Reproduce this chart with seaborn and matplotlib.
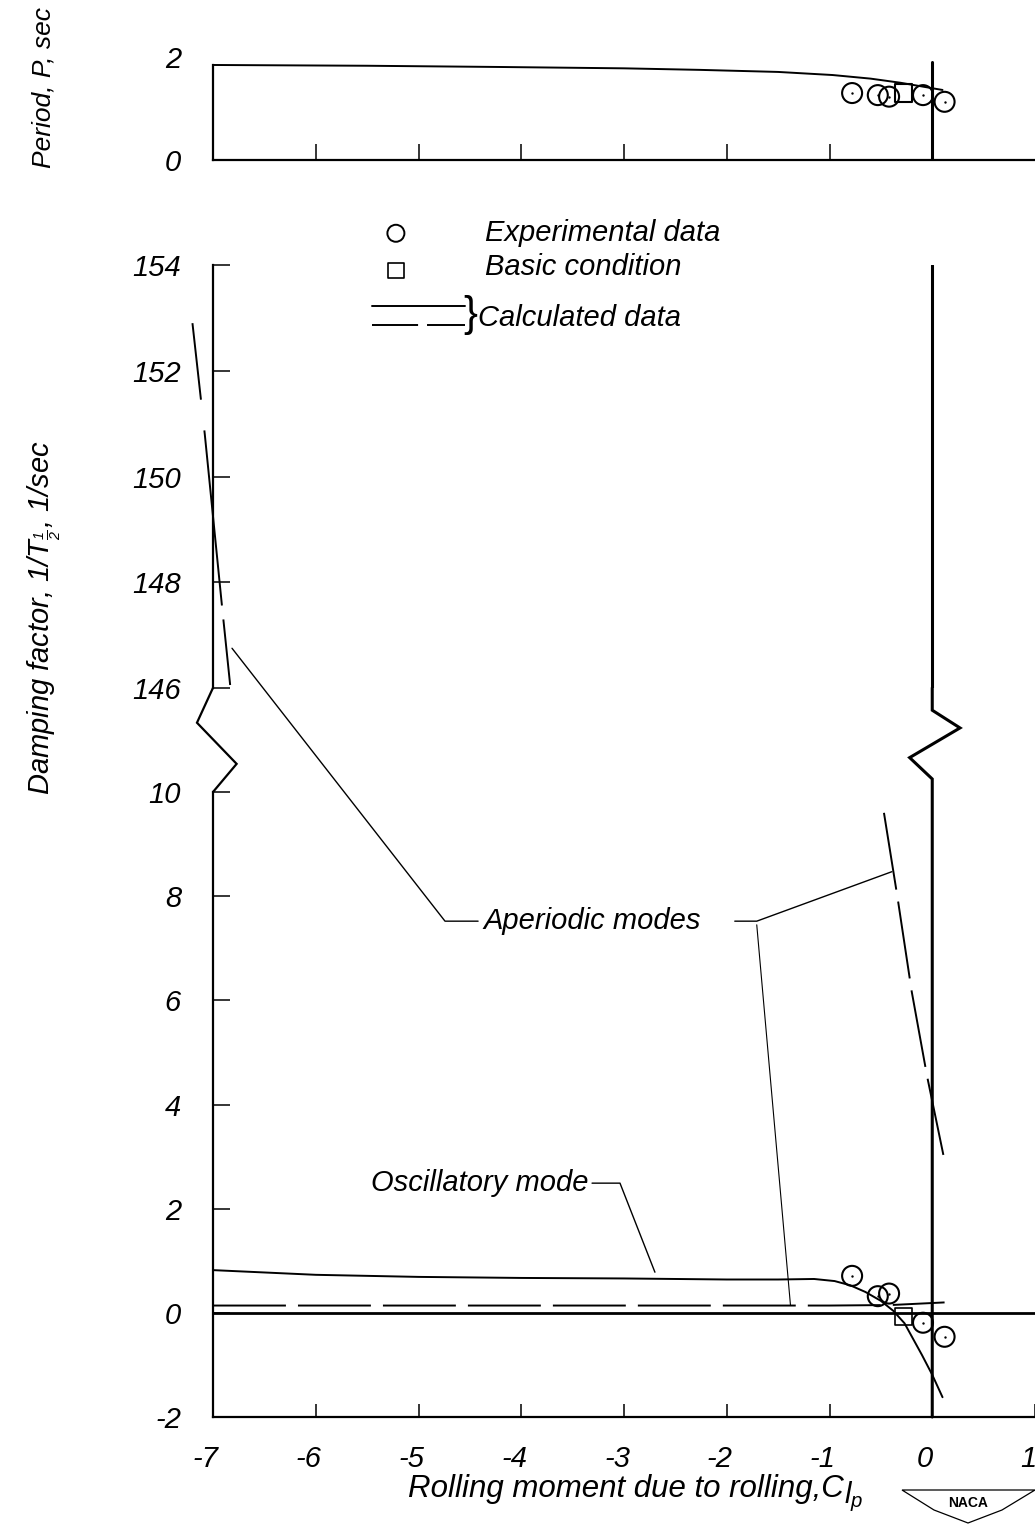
import numpy as np
import pandas as pd
import matplotlib
matplotlib.use("Agg")
import matplotlib.pyplot as plt
import matplotlib.transforms as mtransforms
from matplotlib.patches import Polygon
import seaborn as sns

# ---------------- data ----------------
period_curve_x = [-7.0, -5.5, -4.2, -3.0, -2.26, -1.5, -0.97, -0.6, -0.31, 0.04, 0.10]
period_curve_y = [1.845, 1.83, 1.806, 1.78, 1.75, 1.71, 1.65, 1.58, 1.50, 1.38, 1.36]

exp_x = [-0.78, -0.53, -0.42, -0.09, 0.12]
exp_period = [1.30, 1.26, 1.23, 1.26, 1.13]
exp_damping = [0.71, 0.32, 0.37, -0.19, -0.46]

basic_x = [-0.28]
basic_period = [1.30]
basic_damping = [-0.07]

osc_x = [-7.0, -6.0, -5.0, -4.0, -3.0, -2.0, -1.5, -1.15, -0.95, -0.8, -0.65, -0.5, -0.38, -0.27, -0.1, 0.0, 0.1]
osc_y = [0.82, 0.73, 0.69, 0.67, 0.66, 0.64, 0.64, 0.65, 0.61, 0.53, 0.40, 0.23, 0.04, -0.2, -0.81, -1.19, -1.62]

aper_low_x = [-7.0, -4.0, -1.0, -0.4, 0.12]
aper_low_y = [0.14, 0.14, 0.14, 0.15, 0.20]

aper_mid_x = [-0.47, -0.34, -0.20, -0.05, 0.12]
aper_mid_y = [9.6, 8.0, 6.17, 4.54, 2.92]

aper_high_x = [-7.20, -7.08, -6.91, -6.83]
aper_high_y = [152.9, 150.8, 147.5, 146.0]

x_ticks = [-7, -6, -5, -4, -3, -2, -1, 0, 1]
x_tick_labels = ["-7", "-6", "-5", "-4", "-3", "-2", "-1", "0", "1"]
period_ticks = [0, 2]
period_tick_labels = ["0", "2"]
damp_low_ticks = [-2, 0, 2, 4, 6, 8, 10]
damp_low_labels = ["-2", "0", "2", "4", "6", "8", "10"]
damp_high_ticks = [146, 148, 150, 152, 154]
damp_high_labels = ["146", "148", "150", "152", "154"]

# ---------------- style ----------------
sns.set_theme(style="white")
plt.rcParams['font.family'] = ['Liberation Sans', 'DejaVu Sans']
plt.rcParams['font.style'] = 'italic'
plt.rcParams['mathtext.fontset'] = 'custom'
plt.rcParams['mathtext.it'] = 'Liberation Sans:italic'
plt.rcParams['mathtext.rm'] = 'Liberation Sans:italic'
plt.rcParams['mathtext.default'] = 'it'
plt.rcParams['axes.linewidth'] = 1.5
plt.rcParams['axes.edgecolor'] = 'black'
plt.rcParams['text.color'] = 'black'
plt.rcParams['axes.labelcolor'] = 'black'
plt.rcParams['xtick.color'] = 'black'
plt.rcParams['ytick.color'] = 'black'
plt.rcParams['xtick.labelcolor'] = 'black'
plt.rcParams['ytick.labelcolor'] = 'black'

FS = 21
LW = 1.4
K = 'black'

W, H = 1035, 1533
fig = plt.figure(figsize=(W / 100, H / 100), dpi=100)
fig.patch.set_facecolor('white')

L = 213 / W
Wd = 822 / W
ax_top = fig.add_axes([L, 1 - 160 / H, Wd, 103 / H])
ax_up = fig.add_axes([L, 1 - 688 / H, Wd, 423 / H])
ax_lo = fig.add_axes([L, 1 - 1417 / H, Wd, 625 / H])

for ax in (ax_top, ax_up, ax_lo):
    ax.set_facecolor('none')
    ax.set_xlim(-7, 1)
    ax.spines['top'].set_visible(False)
    ax.spines['right'].set_visible(False)
    for s in ax.spines.values():
        s.set_linewidth(1.6)
        s.set_color(K)

ax_top.set_ylim(0, 2)
ax_up.set_ylim(146, 154)
ax_lo.set_ylim(-2, 10)

dash_std = (0, (37.5, 6.2))
dash_mid = (0, (40.0, 6.2))
dash_high = (0, (39.6, 15.9, 90.5, 7.2, 33.9, 7.2))

# ---------------- top panel: period ----------------
ax_top.spines['left'].set_bounds(0, period_curve_y[0])
ax_top.axvline(0, ymin=0, ymax=0.95, color=K, lw=2.2)
sns.lineplot(x=period_curve_x, y=period_curve_y, ax=ax_top, color=K, linewidth=LW,
             sort=False, estimator=None)
sns.scatterplot(x=exp_x, y=exp_period, ax=ax_top, marker='o', s=207, color=K,
                facecolors='none', edgecolor=K, linewidth=1.5, zorder=5)
sns.scatterplot(x=exp_x, y=exp_period, ax=ax_top, marker='o', s=3, color=K,
                linewidth=0, zorder=6)
sns.scatterplot(x=basic_x, y=basic_period, ax=ax_top, marker='s', s=160, color=K,
                facecolors='none', edgecolor=K, linewidth=1.5, zorder=5)
ax_top.set_xticks([-6, -5, -4, -3, -2, -1])
ax_top.set_xticklabels([])
ax_top.tick_params(axis='x', direction='in', length=11.5, width=1.1, color=K, bottom=True)
ax_top.set_yticks(period_ticks)
ax_top.set_yticklabels(period_tick_labels)
ax_top.tick_params(axis='y', length=0, pad=23, labelsize=FS, left=True, labelcolor=K)

# ---------------- upper damping panel (146-154) ----------------
ax_up.spines['bottom'].set_visible(False)
ax_up.axvline(0, color=K, lw=2.2)
sns.lineplot(x=aper_high_x, y=aper_high_y, ax=ax_up, color=K, linewidth=LW,
             linestyle=dash_high, sort=False, estimator=None, clip_on=False)
ax_up.set_xticks([])
ax_up.set_yticks(damp_high_ticks)
ax_up.set_yticklabels(damp_high_labels)
ax_up.tick_params(axis='y', direction='in', length=12, width=1.1, color=K,
                  pad=23, labelsize=FS, left=True, labelcolor=K)

# legend (hand-drawn style, in upper-axes data units)
ax_up.scatter([-5.22], [154.6], marker='o', s=150, facecolors='none', edgecolors=K,
              linewidths=1.4, clip_on=False)
ax_up.scatter([-5.22], [153.9], marker='s', s=120, facecolors='none', edgecolors=K,
              linewidths=1.2, clip_on=False)
ax_up.plot([-5.45, -4.55], [153.225, 153.225], color=K, lw=LW, clip_on=False)
ax_up.plot([-5.45, -4.55], [152.865, 152.865], color=K, lw=LW,
           linestyle=(0, (23.7, 4.6)), clip_on=False)
ax_up.text(-4.35, 154.6, "Experimental data", fontsize=FS, va='center', ha='left', color=K)
ax_up.text(-4.35, 153.96, "Basic condition", fontsize=FS, va='center', ha='left', color=K)
ax_up.text(-4.50, 153.05, "}", fontsize=30, va='center', ha='center',
           fontstyle='normal', fontweight='light', color=K)
ax_up.text(-4.42, 153.0, "Calculated data", fontsize=FS, va='center', ha='left', color=K)

# ---------------- lower damping panel (-2..10) ----------------
ax_lo.axhline(0, color=K, lw=2.0)
# x = 0 line with break zig-zag
brk_r_x = [0, 0, 0, -0.22, 0.27, 0, 0]
brk_r_y = [-2, 10, 10.25, 10.66, 11.23, 11.57, 12.0]
ax_lo.plot(brk_r_x, brk_r_y, color=K, lw=2.2, clip_on=False, solid_joinstyle='miter')
brk_l_x = [-7, -6.77, -7.156, -7]
brk_l_y = [10, 10.54, 11.33, 12.0]
ax_lo.plot(brk_l_x, brk_l_y, color=K, lw=1.6, clip_on=False, solid_joinstyle='miter')

sns.lineplot(x=osc_x, y=osc_y, ax=ax_lo, color=K, linewidth=LW,
             sort=False, estimator=None, clip_on=False)
sns.lineplot(x=aper_low_x, y=aper_low_y, ax=ax_lo, color=K, linewidth=LW,
             linestyle=dash_std, sort=False, estimator=None)
sns.lineplot(x=aper_mid_x, y=aper_mid_y, ax=ax_lo, color=K, linewidth=LW,
             linestyle=dash_mid, sort=False, estimator=None)
sns.scatterplot(x=exp_x, y=exp_damping, ax=ax_lo, marker='o', s=207, color=K,
                facecolors='none', edgecolor=K, linewidth=1.5, zorder=5)
sns.scatterplot(x=exp_x, y=exp_damping, ax=ax_lo, marker='o', s=3, color=K,
                linewidth=0, zorder=6)
sns.scatterplot(x=basic_x, y=basic_damping, ax=ax_lo, marker='s', s=160, color=K,
                facecolors='none', edgecolor=K, linewidth=1.2, zorder=5)

# annotations with leader lines
ax_lo.text(-4.37, 7.52, "Aperiodic modes", fontsize=FS, va='center', ha='left', color=K)
ax_lo.plot([-6.815, -4.742, -4.42], [12.76, 7.52, 7.52], color=K, lw=1.0, clip_on=False)
ax_lo.plot([-1.922, -1.708, -0.393], [7.52, 7.52, 8.47], color=K, lw=1.0)
ax_lo.plot([-1.708, -1.38], [7.45, 0.15], color=K, lw=0.8)
ax_lo.text(-3.35, 2.49, "Oscillatory mode", fontsize=FS, va='center', ha='right', color=K)
ax_lo.plot([-3.311, -3.039, -2.699], [2.49, 2.49, 0.78], color=K, lw=1.0)

ax_lo.set_xticks(x_ticks)
ax_lo.set_xticklabels(x_tick_labels)
ax_lo.tick_params(axis='x', direction='in', length=9.4, width=1.1, color=K,
                  pad=20, labelsize=FS, bottom=True, labelcolor=K)
ax_lo.set_yticks(damp_low_ticks)
ax_lo.set_yticklabels(damp_low_labels)
ax_lo.tick_params(axis='y', direction='in', length=12, width=1.1, color=K,
                  pad=23, labelsize=FS, left=True, labelcolor=K)
offset = mtransforms.ScaledTranslation(-7 / 100, 0, fig.dpi_scale_trans)
for lab in ax_lo.get_xticklabels():
    lab.set_transform(lab.get_transform() + offset)

for ax in (ax_top, ax_up, ax_lo):
    ax.set_xlabel("")
    ax.set_ylabel("")

# ---------------- axis titles ----------------
fig.text(44 / W, 1 - 88 / H, "Period, P, sec", rotation=90, fontsize=19,
         ha='center', va='center', color=K)
fig.text(44 / W, 1 - 618 / H, r"Damping factor, $1/T_{\frac{1}{2}}$, 1/sec",
         rotation=90, fontsize=FS, ha='center', va='center', color=K)
fig.text(408 / W, 1 - 1497 / H, "Rolling moment due to rolling,C",
         fontsize=22.5, ha='left', va='baseline', color=K)
fig.text(844 / W, 1 - 1503 / H, r"$l_p$", fontsize=21, ha='left', va='baseline', color=K)

# NACA emblem
wing = [(902, 1490), (1035, 1490), (1002, 1510), (968, 1523), (934, 1510)]
poly = Polygon([(x / W, 1 - y / H) for x, y in wing], closed=True, fill=False,
               edgecolor=K, lw=0.9, transform=fig.transFigure)
fig.patches.append(poly)
fig.text(968 / W, 1 - 1503 / H, "NACA", fontsize=10, fontweight='bold',
         fontstyle='normal', ha='center', va='center', color=K)

fig.savefig("out.png", dpi=100)
